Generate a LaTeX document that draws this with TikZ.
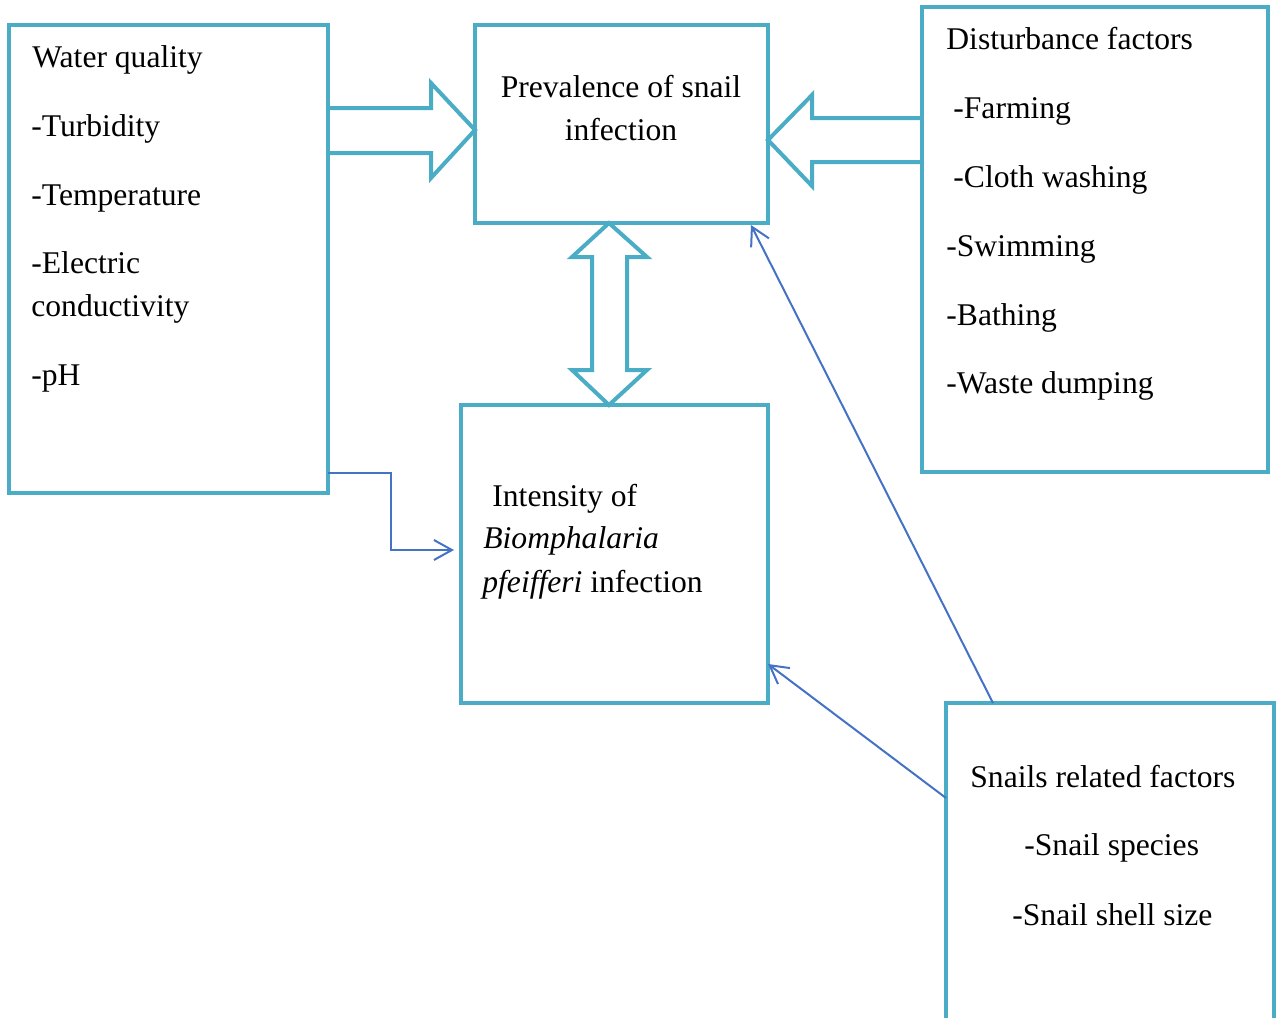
\documentclass[tikz,border=0pt]{standalone}
\usepackage{fontspec}
\setmainfont{Liberation Serif}
\usetikzlibrary{arrows.meta}
\definecolor{boxc}{HTML}{4BACC6}
\definecolor{linkc}{HTML}{4472C4}
\begin{document}
\begin{tikzpicture}[x=0.5pt,y=-0.5pt,
  box/.style={draw=boxc, line width=2pt, inner sep=0pt, rectangle, fill=none},
  txt/.style={anchor=base west, inner sep=0pt, font=\fontsize{15.8}{19}\selectfont},
  ctxt/.style={anchor=base, inner sep=0pt, font=\fontsize{15.8}{19}\selectfont},
  blockarrow/.style={draw=boxc, line width=2pt, line join=miter},
  link/.style={draw=linkc, line width=1pt, -{Straight Barb[length=9pt,width=10pt]}}]
\useasboundingbox (0,0) rectangle (1276,1018);

% boxes
\node[box, minimum width=159.5pt, minimum height=234pt] (water) at (168.5,259) {};
\node[box, minimum width=146.5pt, minimum height=99pt] (prev) at (621.5,124) {};
\node[box, minimum width=173pt, minimum height=232.5pt] (dist) at (1095,239.5) {};
\node[box, minimum width=153.5pt, minimum height=149pt] (inten) at (614.5,554) {};
\node[box, minimum width=164pt, minimum height=170pt] (snail) at (1110,873) {};

% block arrows
\draw[blockarrow] (328,108) -- (431,108) -- (431,83) -- (475,130) -- (431,178) -- (431,153) -- (328,153);
\draw[blockarrow] (922,118) -- (812,118) -- (812,95) -- (768,140) -- (812,186) -- (812,162) -- (922,162);
\draw[blockarrow] (609,223) -- (647,257) -- (627,257) -- (627,370) -- (647,370) -- (609,405)
   -- (572,370) -- (592,370) -- (592,257) -- (572,257) -- cycle;

% thin connectors
\coordinate (wq) at (328,473);
\coordinate (ia1) at (454,550);
\coordinate (sa) at (993,703);
\coordinate (pa) at (751,225);
\coordinate (sb) at (946,798);
\coordinate (ia2) at (768,664);
\draw[link] (wq) -- (391,473) |- (ia1);
\draw[link] (sa) -- (pa);
\draw[link] (sb) -- (ia2);

% water quality texts
\node[txt] (w0) at (32,67) {Water quality};
\node[txt] (w1) at (31,136) {-Turbidity};
\node[txt] (w2) at (31,205) {-Temperature};
\node[txt] (w3) at (31,273) {-Electric};
\node[txt] (w4) at (31,316) {conductivity};
\node[txt] (w5) at (31,385) {-pH};

% prevalence texts
\node[ctxt] (p0) at (621,97) {Prevalence of snail};
\node[ctxt] (p1) at (621,140) {infection};

% disturbance texts
\node[txt] (d0) at (946,49) {Disturbance factors};
\node[txt] (d1) at (953,118) {-Farming};
\node[txt] (d2) at (953,187) {-Cloth washing};
\node[txt] (d3) at (946,256) {-Swimming};
\node[txt] (d4) at (946,325) {-Bathing};
\node[txt] (d5) at (946,393) {-Waste dumping};

% intensity texts
\node[txt] (i0) at (492,506) {Intensity of};
\node[txt] (i1) at (483,548) {\itshape Biomphalaria};
\node[txt] (i2) at (482,592) {\textit{pfeifferi} infection};

% snails texts
\node[txt] (s0) at (970,787) {Snails related factors};
\node[txt] (s1) at (1024,855) {-Snail species};
\node[txt] (s2) at (1012,925) {-Snail shell size};
\end{tikzpicture}
\end{document}
